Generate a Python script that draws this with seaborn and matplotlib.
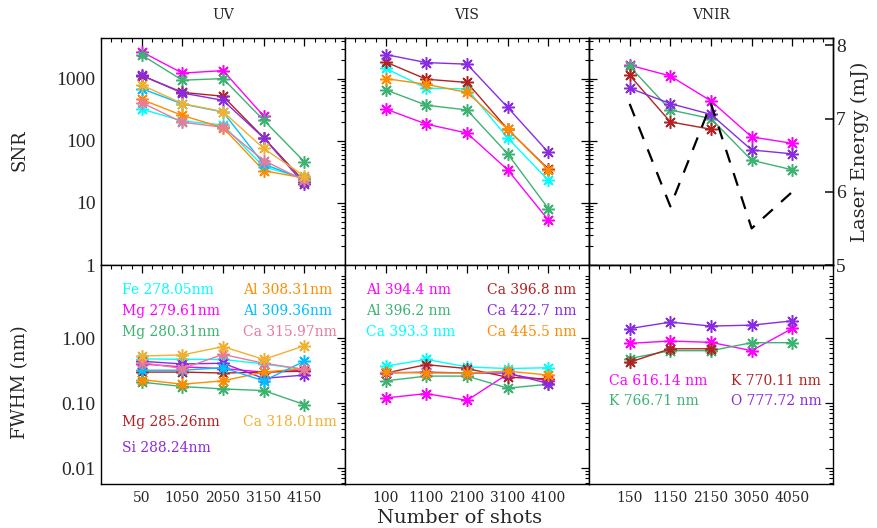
import numpy as np
import pandas as pd
import matplotlib
matplotlib.use("Agg")
import matplotlib.pyplot as plt
import seaborn as sns
from matplotlib.ticker import LogLocator, NullFormatter, FixedLocator, MultipleLocator, FuncFormatter

sns.set_theme(style="white")
plt.rcParams['font.family'] = ['DejaVu Serif', 'Liberation Serif']
plt.rcParams['axes.edgecolor'] = 'black'
plt.rcParams['axes.linewidth'] = 1.0

nan = np.nan

# ---------------- data ----------------
uv_shots = ['50', '1050', '2050', '3150', '4150']
vis_shots = ['100', '1100', '2100', '3100', '4100']
vnir_shots = ['150', '1150', '2150', '3050', '4050']

uv_lines = ['Fe 278.05nm', 'Mg 279.61nm', 'Mg 280.31nm', 'Mg 285.26nm', 'Si 288.24nm',
            'Al 308.31nm', 'Al 309.36nm', 'Ca 315.97nm', 'Ca 318.01nm']
uv_colors = ['#00FFFF', '#FF00FF', '#3CB371', '#B22222', '#8A2BE2',
             '#FF8C00', '#00BFFF', '#E87A9A', '#F0B030']
uv_snr_fe278 = [323, 208, 179, 38, 25]
uv_snr_mg279 = [2700, 1224, 1345, 250, nan]
uv_snr_mg280 = [2400, 942, 1000, 214, 46]
uv_snr_mg285 = [1120, 600, 520, 112, 22]
uv_snr_si288 = [1127, 586, 447, 111, 20]
uv_snr_al308 = [462, 255, 162, 33, 25]
uv_snr_al309 = [690, 390, 290, 42, 24]
uv_snr_ca315 = [410, 198, 165, 48, 23]
uv_snr_ca318 = [789, 396, 294, 75, 27]
uv_fwhm_fe278 = [0.48, 0.47, 0.47, 0.40, 0.33]
uv_fwhm_mg279 = [0.40, 0.36, 0.34, 0.30, 0.32]
uv_fwhm_mg280 = [0.21, 0.18, 0.165, 0.156, 0.095]
uv_fwhm_mg285 = [0.30, 0.30, 0.29, 0.30, 0.31]
uv_fwhm_si288 = [0.44, 0.40, 0.41, 0.24, 0.27]
uv_fwhm_al308 = [0.23, 0.195, 0.22, 0.30, 0.34]
uv_fwhm_al309 = [0.32, 0.32, 0.35, 0.22, 0.44]
uv_fwhm_ca315 = [0.42, 0.34, 0.56, 0.41, 0.33]
uv_fwhm_ca318 = [0.53, 0.55, 0.74, 0.47, 0.76]

vis_lines = ['Al 394.4 nm', 'Al 396.2 nm', 'Ca 393.3 nm', 'Ca 396.8 nm', 'Ca 422.7 nm', 'Ca 445.5 nm']
vis_colors = ['#FF00FF', '#3CB371', '#00FFFF', '#B22222', '#8A2BE2', '#FF8C00']
vis_snr_al394 = [324, 185, 133, 34, 5.3]
vis_snr_al396 = [660, 373, 313, 61.5, 8.1]
vis_snr_ca393 = [1462, 700, 684, 111, 23]
vis_snr_ca396 = [1850, 977, 867, 153, 35]
vis_snr_ca422 = [2440, 1810, 1706, 344, 65]
vis_snr_ca445 = [1000, 807, 600, 153, 34]
vis_fwhm_al394 = [0.12, 0.14, 0.11, 0.28, 0.22]
vis_fwhm_al396 = [0.22, 0.26, 0.26, 0.17, 0.195]
vis_fwhm_ca393 = [0.37, 0.47, 0.36, 0.34, 0.35]
vis_fwhm_ca396 = [0.29, 0.39, 0.34, 0.25, 0.235]
vis_fwhm_ca422 = [0.29, 0.30, 0.29, 0.29, 0.20]
vis_fwhm_ca445 = [0.30, 0.29, 0.29, 0.31, 0.27]

vnir_lines = ['Ca 616.14 nm', 'K 766.71 nm', 'K 770.11 nm', 'O 777.72 nm']
vnir_colors = ['#FF00FF', '#3CB371', '#B22222', '#8A2BE2']
vnir_snr_ca616 = [1645, 1100, 436, 115, 91]
vnir_snr_k766 = [1570, 313, 227, 48.5, 34]
vnir_snr_k770 = [1127, 201, 153, nan, nan]
vnir_snr_o777 = [700, 396, 265, 71, 61.5]
vnir_fwhm_ca616 = [0.83, 0.90, 0.86, 0.64, 1.41]
vnir_fwhm_k766 = [0.485, 0.64, 0.64, 0.85, 0.85]
vnir_fwhm_k770 = [0.425, 0.685, 0.685, nan, nan]
vnir_fwhm_o777 = [1.40, 1.76, 1.53, 1.58, 1.84]
laser_energy = [7.2, 5.8, 7.2, 5.5, 6.0]

# ---------------- layout (figure pixels) ----------------
W, H = 877, 528
x0, colw = 101, 244
ytop, ymid, ybot = 38, 265, 484

panels = [
    dict(title='UV', shots=uv_shots, names=uv_lines, colors=uv_colors,
         snr=[uv_snr_fe278, uv_snr_mg279, uv_snr_mg280, uv_snr_mg285, uv_snr_si288,
              uv_snr_al308, uv_snr_al309, uv_snr_ca315, uv_snr_ca318],
         fwhm=[uv_fwhm_fe278, uv_fwhm_mg279, uv_fwhm_mg280, uv_fwhm_mg285, uv_fwhm_si288,
               uv_fwhm_al308, uv_fwhm_al309, uv_fwhm_ca315, uv_fwhm_ca318],
         labels=[(0, 122, 290), (1, 122, 311), (2, 122, 332),
                 (5, 243, 290), (6, 243, 311), (7, 243, 332),
                 (3, 122, 422), (8, 243, 422), (4, 122, 448)]),
    dict(title='VIS', shots=vis_shots, names=vis_lines, colors=vis_colors,
         snr=[vis_snr_al394, vis_snr_al396, vis_snr_ca393, vis_snr_ca396, vis_snr_ca422, vis_snr_ca445],
         fwhm=[vis_fwhm_al394, vis_fwhm_al396, vis_fwhm_ca393, vis_fwhm_ca396, vis_fwhm_ca422, vis_fwhm_ca445],
         labels=[(0, 366, 290), (1, 366, 311), (2, 366, 332),
                 (3, 487, 290), (4, 487, 311), (5, 487, 332)]),
    dict(title='VNIR', shots=vnir_shots, names=vnir_lines, colors=vnir_colors,
         snr=[vnir_snr_ca616, vnir_snr_k766, vnir_snr_k770, vnir_snr_o777],
         fwhm=[vnir_fwhm_ca616, vnir_fwhm_k766, vnir_fwhm_k770, vnir_fwhm_o777],
         labels=[(0, 609, 381), (1, 609, 401), (2, 731, 381), (3, 731, 401)]),
]

fig = plt.figure(figsize=(W / 100, H / 100), dpi=100)

MARK = (8, 2, 0)


def style_axis(ax):
    ax.tick_params(which='both', direction='in', top=True, right=True, color='black')
    ax.tick_params(which='major', length=6, width=0.9)
    ax.tick_params(which='minor', length=3, width=0.8)
    for s in ax.spines.values():
        s.set_color('black')
        s.set_linewidth(1.0)


def draw_series(ax, shots, series, colors):
    pos = np.arange(len(shots))
    for vals, c in zip(series, colors):
        v = np.asarray(vals, dtype=float)
        m = ~np.isnan(v)
        sns.lineplot(x=pos[m], y=v[m], ax=ax, color=c, linewidth=1.0,
                     marker=MARK, markersize=9, markeredgecolor=c, markeredgewidth=1.1,
                     estimator=None, sort=False, legend=False)


for i, p in enumerate(panels):
    left = (x0 + i * colw) / W
    wfrac = colw / W
    ax_t = fig.add_axes([left, 1 - ymid / H, wfrac, (ymid - ytop) / H])
    ax_b = fig.add_axes([left, 1 - ybot / H, wfrac, (ybot - ymid) / H])

    draw_series(ax_t, p['shots'], p['snr'], p['colors'])
    draw_series(ax_b, p['shots'], p['fwhm'], p['colors'])

    for ax in (ax_t, ax_b):
        ax.set_yscale('log')
        ax.set_xlim(-1, 5)
        ax.set_xticks(np.arange(len(p['shots'])))
        ax.xaxis.set_minor_locator(MultipleLocator(0.25))
        ax.yaxis.set_minor_locator(LogLocator(base=10, subs=np.arange(2, 10)))
        ax.yaxis.set_minor_formatter(NullFormatter())
        ax.set_xlabel('')
        ax.set_ylabel('')
        style_axis(ax)

    ax_t.set_ylim(1, 4500)
    ax_b.set_ylim(0.0057, 13.3)
    ax_t.set_xticklabels([])
    ax_b.set_xticklabels(p['shots'], fontsize=10)
    ax_t.yaxis.set_major_locator(FixedLocator([1, 10, 100, 1000]))
    ax_b.yaxis.set_major_locator(FixedLocator([0.01, 0.1, 1.0]))
    if i == 0:
        ax_t.yaxis.set_major_formatter(FuncFormatter(lambda v, _: f'{v:g}'))
        ax_b.yaxis.set_major_formatter(FuncFormatter(lambda v, _: f'{v:.2f}'))
        for a in (ax_t, ax_b):
            a.tick_params(axis='y', labelsize=14, pad=4)
            for t in a.get_yticklabels():
                t.set_family(['Liberation Serif', 'DejaVu Serif'])
    else:
        ax_t.set_yticklabels([])
        ax_b.set_yticklabels([])
    ax_b.tick_params(axis='x', pad=5)

    ax_t.set_title(p['title'], fontsize=10, pad=14)

    hb = ybot - ymid
    for idx, px, py in p['labels']:
        ax_b.text((px - (x0 + i * colw)) / colw, (ybot - py) / hb, p['names'][idx],
                  transform=ax_b.transAxes, color=p['colors'][idx],
                  fontsize=10, ha='left', va='center')

    if p['title'] == 'VNIR':
        ax_e = ax_t.twinx()
        sns.lineplot(x=np.arange(len(p['shots'])), y=laser_energy, ax=ax_e, color='black',
                     linewidth=1.6, estimator=None, sort=False, legend=False)
        ax_e.lines[-1].set_dashes([6, 5])
        ax_e.set_ylim(5, 8.1)
        ax_e.set_yticks([5, 6, 7, 8])
        ax_e.set_yticklabels(['5', '6', '7', '8'], family=['Liberation Serif', 'DejaVu Serif'])
        ax_e.tick_params(axis='y', direction='in', length=6, labelsize=14, pad=2)
        ax_e.set_ylabel('Laser Energy (mJ)', fontsize=14, rotation=90, va='center')
        ax_e.yaxis.set_label_coords((860 - (x0 + i * colw)) / colw, 0.5)
        ax_e.set_xlim(-1, 5)
        for s in ax_e.spines.values():
            s.set_color('black')

fig.text(20 / W, 1 - 150 / H, 'SNR', rotation=90, ha='center', va='center', fontsize=13)
fig.text(20 / W, 1 - 382 / H, 'FWHM (nm)', rotation=90, ha='center', va='center', fontsize=13)
fig.text(460 / W, 1 - 518 / H, 'Number of shots', ha='center', va='center', fontsize=14)

fig.savefig('out.png', dpi=100)
